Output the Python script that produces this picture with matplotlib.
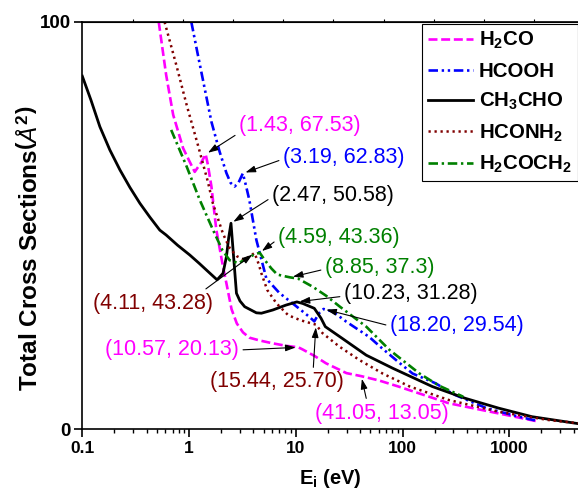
import numpy as np
from matplotlib import pyplot as plt
from matplotlib.ticker import FixedLocator, LogLocator, NullFormatter, NullLocator

plt.rcParams['font.family'] = ['Liberation Sans', 'DejaVu Sans']
plt.rcParams['mathtext.fontset'] = 'custom'
plt.rcParams['mathtext.rm'] = 'Liberation Sans:bold'
plt.rcParams['mathtext.bf'] = 'Liberation Sans:bold'
plt.rcParams['mathtext.it'] = 'Liberation Sans:italic'

# ---- data ----
h2co_x = [0.52, 0.61, 0.71, 0.88, 1.0, 1.13, 1.3, 1.43, 1.5, 1.62, 1.8, 2.08, 2.24, 2.5, 2.8, 3.2, 3.67,
          4.6, 6.1, 8.1, 10.57, 11.6, 15, 19.2, 29.8, 41.05, 60, 91.6, 271, 794, 1875]
h2co_y = [100, 87.0, 77.2, 69.0, 66.0, 63.2, 65.5, 67.53, 65.0, 59.6, 49.0, 39.9, 35.8, 29.5, 26.0, 23.8, 22.5,
          21.8, 21.1, 20.5, 20.13, 19.6, 18.0, 16.2, 13.8, 13.05, 12.0, 10.5, 6.4, 3.9, 1.9]

hcooh_x = [1.05, 1.21, 1.40, 1.62, 1.93, 2.24, 2.45, 2.67, 2.9, 3.19, 3.4, 3.67, 4.27, 5.3, 7.0, 10.1,
           13.4, 14.9, 16.5, 18.2, 22.2, 29.8, 48.6, 61.6, 91.6, 124, 204, 300, 610, 1230, 1875]
hcooh_y = [100, 91.9, 83.7, 75.5, 68.2, 62.9, 60.5, 59.6, 60.5, 62.83, 60.0, 56.3, 46.5, 37.0, 33.5, 30.2,
           27.6, 26.5, 28.5, 29.54, 28.9, 26.4, 22.7, 20.3, 16.5, 13.7, 11.3, 8.6, 5.2, 3.1, 2.0]

ch3cho_x = [0.1, 0.1206, 0.146, 0.181, 0.225, 0.279, 0.346, 0.429, 0.532, 0.61, 0.78, 1.015, 1.25, 1.455,
            1.83, 2.08, 2.24, 2.35, 2.47, 2.57, 2.78, 3.0, 3.32, 4.27, 4.76, 6.1, 8.1, 10.23, 11.6, 14.9,
            17.2, 18.9, 27.3, 45.7, 80.8, 190, 388, 794, 1630, 4400]
ch3cho_y = [86.7, 80.8, 74.3, 68.6, 63.7, 59.4, 55.5, 52.1, 48.9, 47.7, 45.2, 42.8, 40.7, 39.1,
            36.7, 38.3, 42.4, 47.0, 50.58, 44.8, 33.4, 31.5, 30.1, 28.6, 28.5, 29.3, 30.5, 31.28, 30.9, 29.7,
            27.3, 25.2, 22.3, 18.2, 15.0, 10.5, 7.6, 5.2, 3.1, 1.4]

hconh2_x = [0.59, 0.76, 0.95, 1.21, 1.5, 1.67, 2.08, 2.4, 2.8, 3.3, 3.7, 4.11, 4.5, 4.76, 5.4, 6.6, 8.5,
            11, 14, 15.44, 17.8, 25.6, 39.5, 65, 117, 271, 794, 2300, 4400]
hconh2_y = [100, 89.4, 79.6, 69.8, 60.8, 55.5, 48.0, 44.5, 42.5, 41.6, 42.5, 43.28, 40.5, 38.3, 34.2, 30.9,
            28.0, 26.8, 26.0, 25.7, 23.6, 20.3, 17.0, 13.7, 10.5, 7.2, 4.3, 2.3, 1.5]

h2coch2_x = [0.68, 0.95, 1.26, 1.68, 2.05, 2.4, 2.9, 3.56, 4.0, 4.59, 5.1, 5.9, 6.7, 7.8, 8.85, 10.5,
             14.4, 19.2, 25.6, 45.7, 75.4, 144, 220, 370]
h2coch2_y = [73.5, 64.5, 56.3, 48.9, 44.0, 41.5, 40.8, 42.0, 42.8, 43.36, 41.6, 39.5, 38.0, 37.6, 37.3, 37.0,
             35.0, 32.8, 30.2, 25.2, 19.5, 13.7, 10.7, 8.0]

ann_labels = ['(1.43, 67.53)', '(3.19, 62.83)', '(2.47, 50.58)', '(4.59, 43.36)', '(8.85, 37.3)',
              '(10.23, 31.28)', '(18.20, 29.54)', '(4.11, 43.28)', '(10.57, 20.13)', '(15.44, 25.70)',
              '(41.05, 13.05)']
ann_x = [1.43, 3.19, 2.47, 4.59, 8.85, 10.23, 18.20, 4.11, 10.57, 15.44, 41.05]
ann_y = [67.53, 62.83, 50.58, 43.36, 37.3, 31.28, 29.54, 43.28, 20.13, 25.70, 13.05]

xtick_vals = [0.1, 1, 10, 100, 1000]
xtick_labels = ['0.1', '1', '10', '100', '1000']

# ---- figure ----
fig = plt.figure(figsize=(5.78, 4.95), dpi=100)
ax = fig.add_axes([0.1424, 0.1327, 0.8576, 0.8229])

magenta = '#FF00FF'
blue = '#0000FF'
maroon = '#800000'
green = '#008000'

ax.plot(h2co_x, h2co_y, color=magenta, lw=1.9, dashes=(3.4, 1.4), label='H$_2$CO')
ax.plot(hcooh_x, hcooh_y, color=blue, lw=1.9, dashes=(3.6, 1.4, 0.9, 1.4, 0.9, 1.4), label='HCOOH')
ax.plot(ch3cho_x, ch3cho_y, color='black', lw=2.0, label='CH$_3$CHO')
ax.plot(hconh2_x, hconh2_y, color=maroon, lw=1.8, dashes=(0.9, 1.5), label='HCONH$_2$')
ax.plot(h2coch2_x, h2coch2_y, color=green, lw=1.9, dashes=(3.6, 1.4, 0.9, 1.4), label='H$_2$COCH$_2$')

ax.set_xscale('log')
ax.set_xlim(0.1, 4400)
ax.set_ylim(0, 100)

ax.xaxis.set_major_locator(FixedLocator(xtick_vals))
ax.set_xticklabels(xtick_labels)
ax.xaxis.set_minor_locator(LogLocator(base=10, subs=np.arange(2, 10)))
ax.xaxis.set_minor_formatter(NullFormatter())
ax.set_yticks([0, 100])
ax.yaxis.set_minor_locator(NullLocator())
ax.tick_params(axis='both', which='major', direction='out', length=5.5, width=1.2,
               labelsize=12.5, pad=3)
ax.tick_params(axis='y', which='major', labelsize=13.5)
ax.tick_params(axis='x', which='minor', direction='out', length=3, width=1.0)
for lab in ax.get_xticklabels() + ax.get_yticklabels():
    lab.set_fontweight('bold')
ax.spines['right'].set_visible(False)
for s in ['left', 'bottom', 'top']:
    ax.spines[s].set_linewidth(1.2)

# evenly spaced ticks on the top spine
ax2 = ax.twiny()
ax2.set_xlim(0, 1)
ax2.set_xticks([k * 0.1013 for k in range(1, 10)])
ax2.tick_params(axis='x', direction='out', length=2.5, width=0.8, labeltop=False)
for s in ['left', 'right', 'bottom']:
    ax2.spines[s].set_visible(False)

ax.set_xlabel(r'E$_\mathrm{i}$ (eV)', fontsize=14.5, fontweight='bold', labelpad=8)
ax.set_ylabel(r'Total Cross Sections$\left(\mathit{Å}^{2}\right)$', fontsize=17.5, fontweight='bold')
ax.yaxis.set_label_coords(-0.079, 0.445)

# ---- annotations ----
ann_colors = [magenta, blue, 'black', green, green, 'black', blue, maroon, magenta, maroon, magenta]
ann_text_px = [(239, 125), (283, 157), (272, 195), (278, 237), (325, 267), (344, 293), (390, 326),
               (93, 303), (105, 350), (210, 382), (315, 413)]
ann_relpos = [(0.02, 0.2), (0.0, 0.4), (0.0, 0.4), (0.0, 0.4), (0.0, 0.4), (0.0, 0.35), (0.0, 0.5),
              (0.9, 1.0), (1.0, 0.5), (0.77, 1.0), (0.39, 1.0)]
for lab, xv, yv, c, (tx, ty), rp in zip(ann_labels, ann_x, ann_y, ann_colors, ann_text_px, ann_relpos):
    ax.annotate(lab, xy=(xv, yv), xycoords='data', xytext=(tx, 495 - ty), textcoords='figure pixels',
                ha='left', va='center', fontsize=15.5, color=c,
                arrowprops=dict(arrowstyle='-|>,head_length=0.6,head_width=0.2', color='black', lw=0.8,
                                mutation_scale=10, shrinkA=1, shrinkB=2, relpos=rp))

leg = ax.legend(loc='upper right', bbox_to_anchor=(1.0, 0.995), borderaxespad=0,
                prop={'weight': 'bold', 'size': 14.7}, handlelength=2.2, handletextpad=0.3,
                labelspacing=0.5, borderpad=0.3, fancybox=False, framealpha=1)
leg.get_frame().set_edgecolor('black')
leg.get_frame().set_linewidth(0.8)

fig.savefig('out.png', dpi=100)
